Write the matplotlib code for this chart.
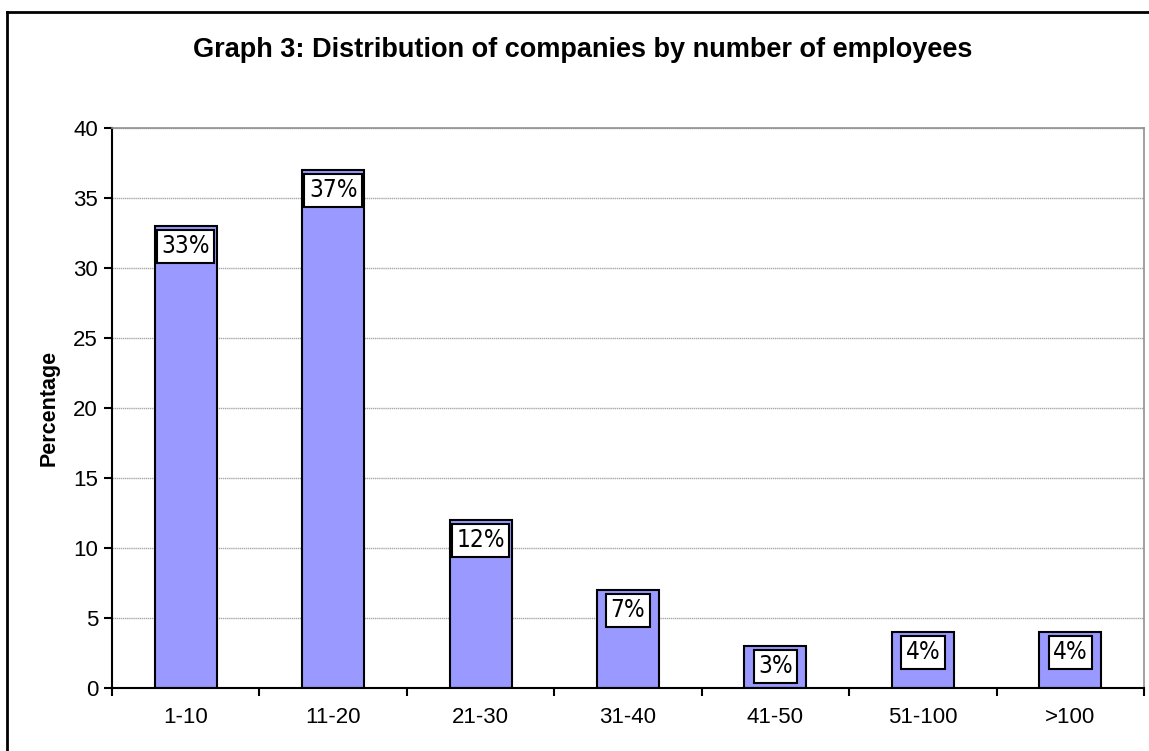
import matplotlib
matplotlib.use("Agg")
import matplotlib.pyplot as plt
from matplotlib.lines import Line2D
from matplotlib.ticker import FixedLocator

categories = ["1-10", "11-20", "21-30", "31-40", "41-50", "51-100", ">100"]
values = [33, 37, 12, 7, 3, 4, 4]
labels = ["33%", "37%", "12%", "7%", "3%", "4%", "4%"]
yticks = [0, 5, 10, 15, 20, 25, 30, 35, 40]

plt.rcParams['font.family'] = ['Liberation Sans', 'DejaVu Sans']

fig = plt.figure(figsize=(11.49, 7.51), dpi=100)
ax = fig.add_axes([112/1149, 63/751, (1144-112)/1149, (688-128)/751])

x = list(range(len(categories)))
ax.bar(x, values, width=0.42, color="#9999FF", edgecolor="black", linewidth=1.5, zorder=3)

for xi, v, lab in zip(x, values, labels):
    ax.annotate(lab, (xi, v), xytext=(0, -6), textcoords="offset points",
                ha="center", va="top", fontsize=17.5,
                family=['DejaVu Sans'], fontstretch='condensed',
                bbox=dict(boxstyle="square,pad=0.18", fc="white", ec="black", lw=1.5),
                zorder=5)

ax.set_xlim(-0.5, len(categories) - 0.5)
ax.set_ylim(0, 40)
ax.set_yticks(yticks)
ax.set_yticklabels([str(t) for t in yticks], fontsize=16)
ax.set_xticks(x)
ax.set_xticklabels(categories, fontsize=16)
ax.xaxis.set_minor_locator(FixedLocator([i - 0.5 for i in range(len(categories) + 1)]))
ax.tick_params(axis='x', which='major', length=0, pad=14)
ax.tick_params(axis='x', which='minor', length=6, width=1.5, direction='out', color='black')
ax.tick_params(axis='y', length=6, width=1.5, direction='out', color='black', pad=4)

ax.yaxis.grid(True, color="#a8a8a8", linestyle=(0, (1, 0.5)), linewidth=1.0, zorder=0)
ax.set_axisbelow(True)

ax.spines['left'].set_color('black')
ax.spines['left'].set_linewidth(1.5)
ax.spines['bottom'].set_color('black')
ax.spines['bottom'].set_linewidth(1.5)
ax.spines['bottom'].set_zorder(4)
ax.spines['top'].set_color('#909090')
ax.spines['right'].set_color('#909090')
ax.spines['top'].set_linewidth(1.2)
ax.spines['right'].set_linewidth(1.2)

ax.set_ylabel("Percentage", fontsize=15.5, fontweight='bold', labelpad=10)

fig.text(0.507, 1 - 50/751, "Graph 3: Distribution of companies by number of employees",
         ha='center', va='center', fontsize=19.5, fontweight='bold')

# outer chart border (cropped at right and bottom)
fig.add_artist(Line2D([7/1149, 7/1149], [0, 1 - 12/751], transform=fig.transFigure, color='black', lw=2))
fig.add_artist(Line2D([7/1149, 1], [1 - 12/751, 1 - 12/751], transform=fig.transFigure, color='black', lw=2))

fig.savefig("out.png", dpi=100)
